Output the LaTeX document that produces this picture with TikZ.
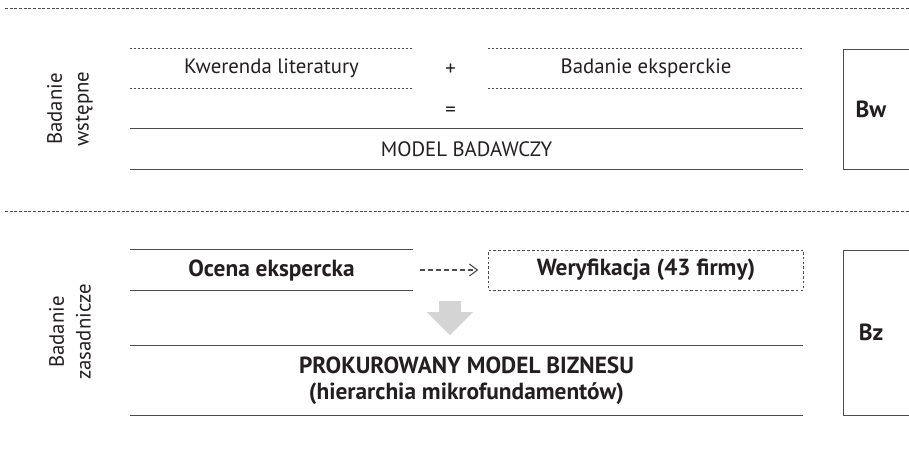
\documentclass[tikz,border=0pt]{standalone}
\usepackage{fontspec}
\setmainfont{PT Sans}
\usetikzlibrary{positioning,arrows.meta}

\definecolor{ink}{HTML}{231F20}
\definecolor{rule}{HTML}{4D4D4D}
\definecolor{arrowgrey}{HTML}{D4D4D4}

\begin{document}
\begin{tikzpicture}[
    x=0.75pt, y=-0.75pt,
    font=\fontsize{15.6}{19}\selectfont, text=ink,
    band/.style={rectangle, minimum width=212.25pt, minimum height=30pt, inner sep=0pt, align=center},
    tag/.style={font=\fontsize{17.5}{19.5}\selectfont\bfseries},
    sideboxstyle/.style={rectangle, draw=rule, thick, minimum width=99pt, anchor=north west, inner sep=0pt},
    sidelabel/.style={rotate=90, align=center, font=\fontsize{15.6}{20}\selectfont},
    solidline/.style={draw=rule, thick},
    dotline/.style={draw=rule, thick, dash pattern=on 1.6pt off 1.4pt},
    sepline/.style={draw=rule, dash pattern=on 2.2pt off 1.3pt},
    darrow/.style={-{Straight Barb[length=6pt, width=9pt]}, draw=rule, thick, dash pattern=on 3.5pt off 2.5pt}
]
\useasboundingbox (0,0) rectangle (909,451);
\clip (0,0) rectangle (909,451);

% separatory
\coordinate (s1a) at (5,8);
\coordinate (s1b) at (909,8);
\coordinate (s2a) at (5,211);
\coordinate (s2b) at (909,211);
\draw[sepline] (s1a) -- (s1b);
\draw[sepline] (s2a) -- (s2b);

% Badanie wstepne
\node[sidelabel] (bw-lab) at (70,109) {Badanie\\wstępne};
\node[band] (kwer) at (271.5,68.5) {Kwerenda literatury};
\node[band, minimum width=236.25pt, right=56.25pt of kwer] (eksp) {Badanie eksperckie};
\node (plus) at (450.5,70) {+};
\node (eq) at (450.5,112) {=};
\node[band, minimum width=504.75pt] (model) at (466.5,149) {MODEL BADAWCZY};
\draw[dotline] (kwer.north west) -- (kwer.north east) (kwer.south west) -- (kwer.south east);
\draw[dotline] (eksp.north west) -- (eksp.north east) (eksp.south west) -- (eksp.south east);
\draw[solidline] (model.north west) -- (model.north east) (model.south west) -- (model.south east);
\node[sideboxstyle, minimum height=90pt] (bwbox) at (843,49) {};
\node[tag] (bw) at (871,109) {Bw};

% Badanie zasadnicze
\node[sidelabel] (bz-lab) at (70,332) {Badanie\\zasadnicze};
\node[band, tag] (ocena) at (271.5,270) {Ocena ekspercka};
\node[band, tag, minimum width=236.25pt, right=56.25pt of ocena, draw=rule, dash pattern=on 2pt off 1.6pt] (weryf) {Weryfikacja (43 firmy)};
\draw[solidline] (ocena.north west) -- (ocena.north east) (ocena.south west) -- (ocena.south east);
\draw[darrow, shorten <=5pt, shorten >=7.5pt] (ocena) -- (weryf);
\node[band, tag, minimum width=504.75pt, minimum height=51.75pt] (prok) at (466.5,380.5) {PROKUROWANY MODEL BIZNESU\\(hierarchia mikrofundamentów)};
\draw[solidline] (prok.north west) -- (prok.north east) (prok.south west) -- (prok.south east);
\fill[arrowgrey] (439,301) -- (461,301) -- (461,312) -- (473,312) -- (450,335) -- (427,312) -- (439,312) -- cycle;
\node[sideboxstyle, minimum height=123.75pt] (bzbox) at (843,250) {};
\node[tag] (bz) at (871,332.5) {Bz};
\end{tikzpicture}
\end{document}
